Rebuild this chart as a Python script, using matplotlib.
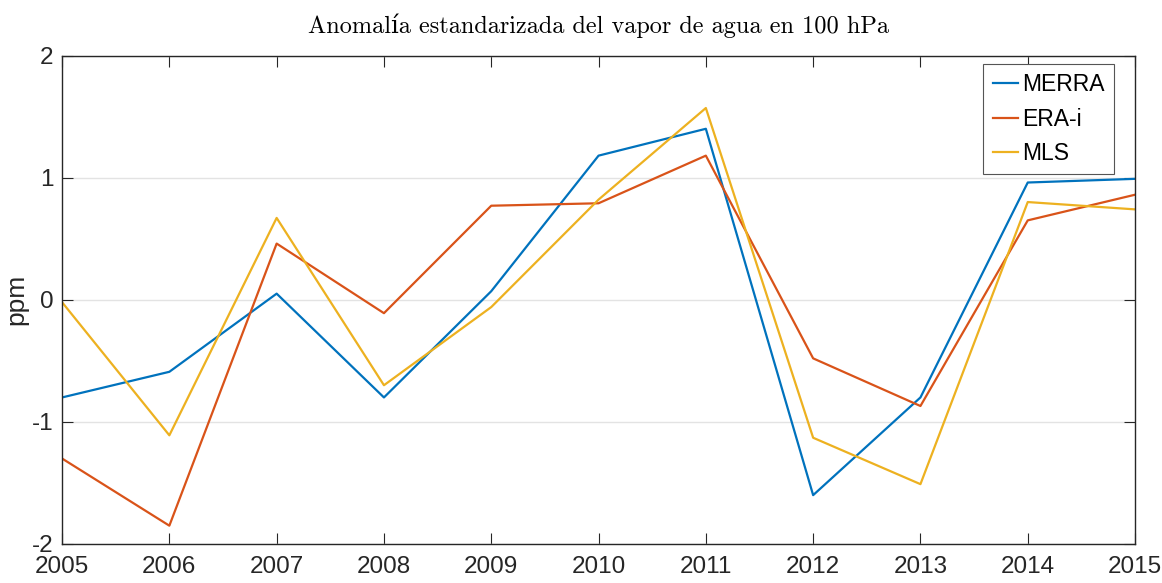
import numpy as np
import matplotlib.pyplot as plt

years = [2005, 2006, 2007, 2008, 2009, 2010, 2011, 2012, 2013, 2014, 2015]
merra = [-0.80, -0.59, 0.05, -0.80, 0.07, 1.18, 1.40, -1.60, -0.80, 0.96, 0.99]
era_i = [-1.30, -1.85, 0.46, -0.11, 0.77, 0.79, 1.18, -0.48, -0.87, 0.65, 0.86]
mls = [-0.02, -1.11, 0.67, -0.70, -0.06, 0.82, 1.57, -1.13, -1.51, 0.80, 0.74]

series_names = ["MERRA", "ERA-i", "MLS"]
colors = ["#0072BD", "#D95319", "#EDB120"]

plt.rcParams["font.family"] = ["Liberation Sans", "DejaVu Sans"]

fig = plt.figure(figsize=(11.62, 5.83), dpi=100)
ax = fig.add_axes([0.0534, 0.0669, 0.9234, 0.8379])

for vals, name, c in zip([merra, era_i, mls], series_names, colors):
    ax.plot(years, vals, color=c, linewidth=1.6, label=name)

ax.set_xlim(2005, 2015)
ax.set_ylim(-2, 2)
ax.set_xticks(years)
ax.set_yticks([-2, -1, 0, 1, 2])
ax.set_yticklabels(["-2", "-1", "0", "1", "2"])

ax.yaxis.grid(True, color="#e3e3e3", linewidth=1.0)
ax.set_axisbelow(True)

for s in ax.spines.values():
    s.set_color("#262626")
    s.set_linewidth(1.0)

ax.tick_params(axis="both", direction="in", length=8, width=0.8,
               colors="#262626", labelsize=17.5, top=True, right=True)
ax.tick_params(axis="x", pad=9)
ax.tick_params(axis="y", pad=6)

ax.set_ylabel("ppm", fontsize=19, color="#262626")
ax.yaxis.set_label_coords(-0.031, 0.5)
ax.set_title("Anomalía estandarizada del vapor de agua en 100 hPa",
             family=["cmr10", "DejaVu Serif"], fontsize=17.5, pad=16)

leg = ax.legend(loc="upper right", bbox_to_anchor=(0.9804, 0.9826),
                borderaxespad=0, fontsize=16.5, frameon=True, fancybox=False,
                framealpha=1, edgecolor="#555555", handlelength=1.1,
                handletextpad=0.2, borderpad=0.4, labelspacing=0.5)
leg.get_frame().set_linewidth(0.8)

fig.savefig("out.png", dpi=100)
